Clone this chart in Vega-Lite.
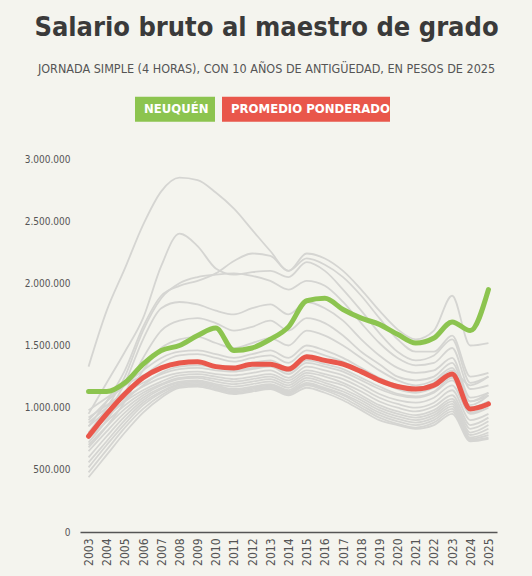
{
  "$schema": "https://vega.github.io/schema/vega-lite/v6.json",
  "width": 417,
  "height": 373,
  "autosize": {"type": "none"},
  "padding": {"left": 80, "top": 159, "right": 35, "bottom": 44},
  "background": "#f4f4ee",
  "config": {
    "view": {"stroke": null},
    "font": "DejaVu Sans Condensed, Liberation Sans Narrow, sans-serif"
  },
  "title": {
    "text": "Salario bruto al maestro de grado",
    "subtitle": "JORNADA SIMPLE (4 HORAS), CON 10 AÑOS DE ANTIGÜEDAD, EN PESOS DE 2025",
    "anchor": "middle",
    "frame": "group",
    "dx": -22,
    "offset": 25,
    "font": "DejaVu Sans Condensed, Liberation Sans Narrow, sans-serif",
    "fontSize": 27,
    "fontWeight": "bold",
    "color": "#3a3a3a",
    "subtitleFont": "DejaVu Sans Condensed, Liberation Sans Narrow, sans-serif",
    "subtitleFontSize": 12.5,
    "subtitleColor": "#555555",
    "subtitlePadding": 21
  },
  "datasets": {
    "provincias": [
      {"s":"P01","a":2003,"v":1330000},{"s":"P01","a":2004,"v":1780000},{"s":"P01","a":2005,"v":2120000},{"s":"P01","a":2006,"v":2470000},{"s":"P01","a":2007,"v":2740000},{"s":"P01","a":2008,"v":2850000},{"s":"P01","a":2009,"v":2830000},{"s":"P01","a":2010,"v":2730000},{"s":"P01","a":2011,"v":2600000},{"s":"P01","a":2012,"v":2430000},{"s":"P01","a":2013,"v":2260000},{"s":"P01","a":2014,"v":2100000},{"s":"P01","a":2015,"v":2240000},{"s":"P01","a":2016,"v":2200000},{"s":"P01","a":2017,"v":2100000},{"s":"P01","a":2018,"v":1950000},{"s":"P01","a":2019,"v":1780000},{"s":"P01","a":2020,"v":1630000},{"s":"P01","a":2021,"v":1550000},{"s":"P01","a":2022,"v":1620000},{"s":"P01","a":2023,"v":1900000},{"s":"P01","a":2024,"v":1500000},{"s":"P01","a":2025,"v":1520000},
      {"s":"P02","a":2003,"v":950000},{"s":"P02","a":2004,"v":1200000},{"s":"P02","a":2005,"v":1450000},{"s":"P02","a":2006,"v":1720000},{"s":"P02","a":2007,"v":2140000},{"s":"P02","a":2008,"v":2400000},{"s":"P02","a":2009,"v":2300000},{"s":"P02","a":2010,"v":2120000},{"s":"P02","a":2011,"v":2070000},{"s":"P02","a":2012,"v":2090000},{"s":"P02","a":2013,"v":2100000},{"s":"P02","a":2014,"v":2050000},{"s":"P02","a":2015,"v":2170000},{"s":"P02","a":2016,"v":2100000},{"s":"P02","a":2017,"v":1950000},{"s":"P02","a":2018,"v":1780000},{"s":"P02","a":2019,"v":1600000},{"s":"P02","a":2020,"v":1450000},{"s":"P02","a":2021,"v":1380000},{"s":"P02","a":2022,"v":1420000},{"s":"P02","a":2023,"v":1550000},{"s":"P02","a":2024,"v":1200000},{"s":"P02","a":2025,"v":1250000},
      {"s":"P03","a":2003,"v":850000},{"s":"P03","a":2004,"v":1050000},{"s":"P03","a":2005,"v":1300000},{"s":"P03","a":2006,"v":1650000},{"s":"P03","a":2007,"v":1900000},{"s":"P03","a":2008,"v":1980000},{"s":"P03","a":2009,"v":2020000},{"s":"P03","a":2010,"v":2080000},{"s":"P03","a":2011,"v":2180000},{"s":"P03","a":2012,"v":2240000},{"s":"P03","a":2013,"v":2220000},{"s":"P03","a":2014,"v":2100000},{"s":"P03","a":2015,"v":2200000},{"s":"P03","a":2016,"v":2150000},{"s":"P03","a":2017,"v":2050000},{"s":"P03","a":2018,"v":1900000},{"s":"P03","a":2019,"v":1720000},{"s":"P03","a":2020,"v":1550000},{"s":"P03","a":2021,"v":1450000},{"s":"P03","a":2022,"v":1450000},{"s":"P03","a":2023,"v":1580000},{"s":"P03","a":2024,"v":1250000},{"s":"P03","a":2025,"v":1280000},
      {"s":"P04","a":2003,"v":800000},{"s":"P04","a":2004,"v":1000000},{"s":"P04","a":2005,"v":1250000},{"s":"P04","a":2006,"v":1620000},{"s":"P04","a":2007,"v":1880000},{"s":"P04","a":2008,"v":2000000},{"s":"P04","a":2009,"v":2050000},{"s":"P04","a":2010,"v":2070000},{"s":"P04","a":2011,"v":2080000},{"s":"P04","a":2012,"v":2060000},{"s":"P04","a":2013,"v":2020000},{"s":"P04","a":2014,"v":1950000},{"s":"P04","a":2015,"v":2020000},{"s":"P04","a":2016,"v":1980000},{"s":"P04","a":2017,"v":1850000},{"s":"P04","a":2018,"v":1680000},{"s":"P04","a":2019,"v":1520000},{"s":"P04","a":2020,"v":1400000},{"s":"P04","a":2021,"v":1340000},{"s":"P04","a":2022,"v":1360000},{"s":"P04","a":2023,"v":1480000},{"s":"P04","a":2024,"v":1150000},{"s":"P04","a":2025,"v":1180000},
      {"s":"P05","a":2003,"v":750000},{"s":"P05","a":2004,"v":950000},{"s":"P05","a":2005,"v":1200000},{"s":"P05","a":2006,"v":1550000},{"s":"P05","a":2007,"v":1800000},{"s":"P05","a":2008,"v":1850000},{"s":"P05","a":2009,"v":1830000},{"s":"P05","a":2010,"v":1780000},{"s":"P05","a":2011,"v":1750000},{"s":"P05","a":2012,"v":1800000},{"s":"P05","a":2013,"v":1830000},{"s":"P05","a":2014,"v":1750000},{"s":"P05","a":2015,"v":1850000},{"s":"P05","a":2016,"v":1800000},{"s":"P05","a":2017,"v":1700000},{"s":"P05","a":2018,"v":1550000},{"s":"P05","a":2019,"v":1420000},{"s":"P05","a":2020,"v":1320000},{"s":"P05","a":2021,"v":1280000},{"s":"P05","a":2022,"v":1300000},{"s":"P05","a":2023,"v":1400000},{"s":"P05","a":2024,"v":1080000},{"s":"P05","a":2025,"v":1120000},
      {"s":"P06","a":2003,"v":720000},{"s":"P06","a":2004,"v":900000},{"s":"P06","a":2005,"v":1120000},{"s":"P06","a":2006,"v":1400000},{"s":"P06","a":2007,"v":1620000},{"s":"P06","a":2008,"v":1700000},{"s":"P06","a":2009,"v":1720000},{"s":"P06","a":2010,"v":1680000},{"s":"P06","a":2011,"v":1620000},{"s":"P06","a":2012,"v":1650000},{"s":"P06","a":2013,"v":1700000},{"s":"P06","a":2014,"v":1620000},{"s":"P06","a":2015,"v":1720000},{"s":"P06","a":2016,"v":1680000},{"s":"P06","a":2017,"v":1580000},{"s":"P06","a":2018,"v":1450000},{"s":"P06","a":2019,"v":1350000},{"s":"P06","a":2020,"v":1250000},{"s":"P06","a":2021,"v":1220000},{"s":"P06","a":2022,"v":1250000},{"s":"P06","a":2023,"v":1360000},{"s":"P06","a":2024,"v":1050000},{"s":"P06","a":2025,"v":1100000},
      {"s":"P07","a":2003,"v":680000},{"s":"P07","a":2004,"v":850000},{"s":"P07","a":2005,"v":1050000},{"s":"P07","a":2006,"v":1300000},{"s":"P07","a":2007,"v":1480000},{"s":"P07","a":2008,"v":1550000},{"s":"P07","a":2009,"v":1570000},{"s":"P07","a":2010,"v":1520000},{"s":"P07","a":2011,"v":1480000},{"s":"P07","a":2012,"v":1520000},{"s":"P07","a":2013,"v":1560000},{"s":"P07","a":2014,"v":1500000},{"s":"P07","a":2015,"v":1620000},{"s":"P07","a":2016,"v":1580000},{"s":"P07","a":2017,"v":1500000},{"s":"P07","a":2018,"v":1400000},{"s":"P07","a":2019,"v":1300000},{"s":"P07","a":2020,"v":1220000},{"s":"P07","a":2021,"v":1180000},{"s":"P07","a":2022,"v":1220000},{"s":"P07","a":2023,"v":1320000},{"s":"P07","a":2024,"v":1000000},{"s":"P07","a":2025,"v":1050000},
      {"s":"P08","a":2003,"v":900000},{"s":"P08","a":2004,"v":1050000},{"s":"P08","a":2005,"v":1180000},{"s":"P08","a":2006,"v":1300000},{"s":"P08","a":2007,"v":1400000},{"s":"P08","a":2008,"v":1450000},{"s":"P08","a":2009,"v":1460000},{"s":"P08","a":2010,"v":1430000},{"s":"P08","a":2011,"v":1400000},{"s":"P08","a":2012,"v":1430000},{"s":"P08","a":2013,"v":1460000},{"s":"P08","a":2014,"v":1400000},{"s":"P08","a":2015,"v":1500000},{"s":"P08","a":2016,"v":1460000},{"s":"P08","a":2017,"v":1400000},{"s":"P08","a":2018,"v":1320000},{"s":"P08","a":2019,"v":1240000},{"s":"P08","a":2020,"v":1180000},{"s":"P08","a":2021,"v":1140000},{"s":"P08","a":2022,"v":1180000},{"s":"P08","a":2023,"v":1260000},{"s":"P08","a":2024,"v":1000000},{"s":"P08","a":2025,"v":1050000},
      {"s":"P09","a":2003,"v":980000},{"s":"P09","a":2004,"v":1080000},{"s":"P09","a":2005,"v":1180000},{"s":"P09","a":2006,"v":1260000},{"s":"P09","a":2007,"v":1320000},{"s":"P09","a":2008,"v":1350000},{"s":"P09","a":2009,"v":1360000},{"s":"P09","a":2010,"v":1340000},{"s":"P09","a":2011,"v":1330000},{"s":"P09","a":2012,"v":1360000},{"s":"P09","a":2013,"v":1380000},{"s":"P09","a":2014,"v":1320000},{"s":"P09","a":2015,"v":1420000},{"s":"P09","a":2016,"v":1380000},{"s":"P09","a":2017,"v":1340000},{"s":"P09","a":2018,"v":1280000},{"s":"P09","a":2019,"v":1220000},{"s":"P09","a":2020,"v":1180000},{"s":"P09","a":2021,"v":1160000},{"s":"P09","a":2022,"v":1200000},{"s":"P09","a":2023,"v":1300000},{"s":"P09","a":2024,"v":1180000},{"s":"P09","a":2025,"v":1250000},
      {"s":"P10","a":2003,"v":920000},{"s":"P10","a":2004,"v":1020000},{"s":"P10","a":2005,"v":1120000},{"s":"P10","a":2006,"v":1200000},{"s":"P10","a":2007,"v":1270000},{"s":"P10","a":2008,"v":1310000},{"s":"P10","a":2009,"v":1320000},{"s":"P10","a":2010,"v":1300000},{"s":"P10","a":2011,"v":1290000},{"s":"P10","a":2012,"v":1310000},{"s":"P10","a":2013,"v":1330000},{"s":"P10","a":2014,"v":1270000},{"s":"P10","a":2015,"v":1360000},{"s":"P10","a":2016,"v":1330000},{"s":"P10","a":2017,"v":1290000},{"s":"P10","a":2018,"v":1220000},{"s":"P10","a":2019,"v":1150000},{"s":"P10","a":2020,"v":1100000},{"s":"P10","a":2021,"v":1080000},{"s":"P10","a":2022,"v":1120000},{"s":"P10","a":2023,"v":1220000},{"s":"P10","a":2024,"v":1020000},{"s":"P10","a":2025,"v":1100000},
      {"s":"P11","a":2003,"v":850000},{"s":"P11","a":2004,"v":970000},{"s":"P11","a":2005,"v":1080000},{"s":"P11","a":2006,"v":1170000},{"s":"P11","a":2007,"v":1240000},{"s":"P11","a":2008,"v":1280000},{"s":"P11","a":2009,"v":1290000},{"s":"P11","a":2010,"v":1270000},{"s":"P11","a":2011,"v":1260000},{"s":"P11","a":2012,"v":1280000},{"s":"P11","a":2013,"v":1300000},{"s":"P11","a":2014,"v":1240000},{"s":"P11","a":2015,"v":1330000},{"s":"P11","a":2016,"v":1300000},{"s":"P11","a":2017,"v":1260000},{"s":"P11","a":2018,"v":1190000},{"s":"P11","a":2019,"v":1110000},{"s":"P11","a":2020,"v":1060000},{"s":"P11","a":2021,"v":1040000},{"s":"P11","a":2022,"v":1080000},{"s":"P11","a":2023,"v":1180000},{"s":"P11","a":2024,"v":950000},{"s":"P11","a":2025,"v":1000000},
      {"s":"P12","a":2003,"v":800000},{"s":"P12","a":2004,"v":930000},{"s":"P12","a":2005,"v":1050000},{"s":"P12","a":2006,"v":1140000},{"s":"P12","a":2007,"v":1210000},{"s":"P12","a":2008,"v":1260000},{"s":"P12","a":2009,"v":1270000},{"s":"P12","a":2010,"v":1250000},{"s":"P12","a":2011,"v":1230000},{"s":"P12","a":2012,"v":1250000},{"s":"P12","a":2013,"v":1270000},{"s":"P12","a":2014,"v":1220000},{"s":"P12","a":2015,"v":1300000},{"s":"P12","a":2016,"v":1270000},{"s":"P12","a":2017,"v":1230000},{"s":"P12","a":2018,"v":1160000},{"s":"P12","a":2019,"v":1080000},{"s":"P12","a":2020,"v":1030000},{"s":"P12","a":2021,"v":1000000},{"s":"P12","a":2022,"v":1040000},{"s":"P12","a":2023,"v":1140000},{"s":"P12","a":2024,"v":900000},{"s":"P12","a":2025,"v":950000},
      {"s":"P13","a":2003,"v":750000},{"s":"P13","a":2004,"v":890000},{"s":"P13","a":2005,"v":1020000},{"s":"P13","a":2006,"v":1120000},{"s":"P13","a":2007,"v":1190000},{"s":"P13","a":2008,"v":1240000},{"s":"P13","a":2009,"v":1250000},{"s":"P13","a":2010,"v":1230000},{"s":"P13","a":2011,"v":1210000},{"s":"P13","a":2012,"v":1230000},{"s":"P13","a":2013,"v":1250000},{"s":"P13","a":2014,"v":1200000},{"s":"P13","a":2015,"v":1280000},{"s":"P13","a":2016,"v":1250000},{"s":"P13","a":2017,"v":1200000},{"s":"P13","a":2018,"v":1130000},{"s":"P13","a":2019,"v":1050000},{"s":"P13","a":2020,"v":1000000},{"s":"P13","a":2021,"v":970000},{"s":"P13","a":2022,"v":1010000},{"s":"P13","a":2023,"v":1100000},{"s":"P13","a":2024,"v":860000},{"s":"P13","a":2025,"v":920000},
      {"s":"P14","a":2003,"v":700000},{"s":"P14","a":2004,"v":850000},{"s":"P14","a":2005,"v":990000},{"s":"P14","a":2006,"v":1100000},{"s":"P14","a":2007,"v":1180000},{"s":"P14","a":2008,"v":1230000},{"s":"P14","a":2009,"v":1240000},{"s":"P14","a":2010,"v":1210000},{"s":"P14","a":2011,"v":1190000},{"s":"P14","a":2012,"v":1210000},{"s":"P14","a":2013,"v":1230000},{"s":"P14","a":2014,"v":1180000},{"s":"P14","a":2015,"v":1260000},{"s":"P14","a":2016,"v":1220000},{"s":"P14","a":2017,"v":1180000},{"s":"P14","a":2018,"v":1100000},{"s":"P14","a":2019,"v":1020000},{"s":"P14","a":2020,"v":970000},{"s":"P14","a":2021,"v":940000},{"s":"P14","a":2022,"v":980000},{"s":"P14","a":2023,"v":1070000},{"s":"P14","a":2024,"v":830000},{"s":"P14","a":2025,"v":890000},
      {"s":"P15","a":2003,"v":650000},{"s":"P15","a":2004,"v":810000},{"s":"P15","a":2005,"v":960000},{"s":"P15","a":2006,"v":1080000},{"s":"P15","a":2007,"v":1160000},{"s":"P15","a":2008,"v":1210000},{"s":"P15","a":2009,"v":1220000},{"s":"P15","a":2010,"v":1190000},{"s":"P15","a":2011,"v":1170000},{"s":"P15","a":2012,"v":1190000},{"s":"P15","a":2013,"v":1210000},{"s":"P15","a":2014,"v":1160000},{"s":"P15","a":2015,"v":1240000},{"s":"P15","a":2016,"v":1200000},{"s":"P15","a":2017,"v":1150000},{"s":"P15","a":2018,"v":1080000},{"s":"P15","a":2019,"v":1000000},{"s":"P15","a":2020,"v":950000},{"s":"P15","a":2021,"v":920000},{"s":"P15","a":2022,"v":960000},{"s":"P15","a":2023,"v":1050000},{"s":"P15","a":2024,"v":800000},{"s":"P15","a":2025,"v":860000},
      {"s":"P16","a":2003,"v":600000},{"s":"P16","a":2004,"v":770000},{"s":"P16","a":2005,"v":930000},{"s":"P16","a":2006,"v":1060000},{"s":"P16","a":2007,"v":1150000},{"s":"P16","a":2008,"v":1200000},{"s":"P16","a":2009,"v":1210000},{"s":"P16","a":2010,"v":1180000},{"s":"P16","a":2011,"v":1150000},{"s":"P16","a":2012,"v":1170000},{"s":"P16","a":2013,"v":1190000},{"s":"P16","a":2014,"v":1140000},{"s":"P16","a":2015,"v":1220000},{"s":"P16","a":2016,"v":1180000},{"s":"P16","a":2017,"v":1130000},{"s":"P16","a":2018,"v":1060000},{"s":"P16","a":2019,"v":980000},{"s":"P16","a":2020,"v":930000},{"s":"P16","a":2021,"v":900000},{"s":"P16","a":2022,"v":940000},{"s":"P16","a":2023,"v":1030000},{"s":"P16","a":2024,"v":780000},{"s":"P16","a":2025,"v":830000},
      {"s":"P17","a":2003,"v":560000},{"s":"P17","a":2004,"v":730000},{"s":"P17","a":2005,"v":900000},{"s":"P17","a":2006,"v":1040000},{"s":"P17","a":2007,"v":1130000},{"s":"P17","a":2008,"v":1190000},{"s":"P17","a":2009,"v":1200000},{"s":"P17","a":2010,"v":1170000},{"s":"P17","a":2011,"v":1140000},{"s":"P17","a":2012,"v":1160000},{"s":"P17","a":2013,"v":1180000},{"s":"P17","a":2014,"v":1130000},{"s":"P17","a":2015,"v":1200000},{"s":"P17","a":2016,"v":1160000},{"s":"P17","a":2017,"v":1110000},{"s":"P17","a":2018,"v":1040000},{"s":"P17","a":2019,"v":960000},{"s":"P17","a":2020,"v":910000},{"s":"P17","a":2021,"v":880000},{"s":"P17","a":2022,"v":920000},{"s":"P17","a":2023,"v":1010000},{"s":"P17","a":2024,"v":760000},{"s":"P17","a":2025,"v":800000},
      {"s":"P18","a":2003,"v":520000},{"s":"P18","a":2004,"v":700000},{"s":"P18","a":2005,"v":870000},{"s":"P18","a":2006,"v":1020000},{"s":"P18","a":2007,"v":1120000},{"s":"P18","a":2008,"v":1180000},{"s":"P18","a":2009,"v":1190000},{"s":"P18","a":2010,"v":1160000},{"s":"P18","a":2011,"v":1130000},{"s":"P18","a":2012,"v":1150000},{"s":"P18","a":2013,"v":1170000},{"s":"P18","a":2014,"v":1120000},{"s":"P18","a":2015,"v":1190000},{"s":"P18","a":2016,"v":1150000},{"s":"P18","a":2017,"v":1100000},{"s":"P18","a":2018,"v":1020000},{"s":"P18","a":2019,"v":940000},{"s":"P18","a":2020,"v":890000},{"s":"P18","a":2021,"v":860000},{"s":"P18","a":2022,"v":900000},{"s":"P18","a":2023,"v":990000},{"s":"P18","a":2024,"v":750000},{"s":"P18","a":2025,"v":780000},
      {"s":"P19","a":2003,"v":480000},{"s":"P19","a":2004,"v":660000},{"s":"P19","a":2005,"v":840000},{"s":"P19","a":2006,"v":990000},{"s":"P19","a":2007,"v":1100000},{"s":"P19","a":2008,"v":1170000},{"s":"P19","a":2009,"v":1180000},{"s":"P19","a":2010,"v":1150000},{"s":"P19","a":2011,"v":1120000},{"s":"P19","a":2012,"v":1140000},{"s":"P19","a":2013,"v":1160000},{"s":"P19","a":2014,"v":1110000},{"s":"P19","a":2015,"v":1180000},{"s":"P19","a":2016,"v":1140000},{"s":"P19","a":2017,"v":1080000},{"s":"P19","a":2018,"v":1000000},{"s":"P19","a":2019,"v":920000},{"s":"P19","a":2020,"v":870000},{"s":"P19","a":2021,"v":840000},{"s":"P19","a":2022,"v":880000},{"s":"P19","a":2023,"v":970000},{"s":"P19","a":2024,"v":740000},{"s":"P19","a":2025,"v":760000},
      {"s":"P20","a":2003,"v":440000},{"s":"P20","a":2004,"v":620000},{"s":"P20","a":2005,"v":800000},{"s":"P20","a":2006,"v":960000},{"s":"P20","a":2007,"v":1080000},{"s":"P20","a":2008,"v":1160000},{"s":"P20","a":2009,"v":1170000},{"s":"P20","a":2010,"v":1140000},{"s":"P20","a":2011,"v":1110000},{"s":"P20","a":2012,"v":1130000},{"s":"P20","a":2013,"v":1150000},{"s":"P20","a":2014,"v":1100000},{"s":"P20","a":2015,"v":1160000},{"s":"P20","a":2016,"v":1120000},{"s":"P20","a":2017,"v":1060000},{"s":"P20","a":2018,"v":980000},{"s":"P20","a":2019,"v":900000},{"s":"P20","a":2020,"v":860000},{"s":"P20","a":2021,"v":830000},{"s":"P20","a":2022,"v":860000},{"s":"P20","a":2023,"v":950000},{"s":"P20","a":2024,"v":730000},{"s":"P20","a":2025,"v":750000},
      {"s":"P21","a":2003,"v":780000},{"s":"P21","a":2004,"v":920000},{"s":"P21","a":2005,"v":1060000},{"s":"P21","a":2006,"v":1180000},{"s":"P21","a":2007,"v":1280000},{"s":"P21","a":2008,"v":1330000},{"s":"P21","a":2009,"v":1340000},{"s":"P21","a":2010,"v":1320000},{"s":"P21","a":2011,"v":1300000},{"s":"P21","a":2012,"v":1320000},{"s":"P21","a":2013,"v":1340000},{"s":"P21","a":2014,"v":1290000},{"s":"P21","a":2015,"v":1380000},{"s":"P21","a":2016,"v":1350000},{"s":"P21","a":2017,"v":1310000},{"s":"P21","a":2018,"v":1240000},{"s":"P21","a":2019,"v":1170000},{"s":"P21","a":2020,"v":1110000},{"s":"P21","a":2021,"v":1090000},{"s":"P21","a":2022,"v":1130000},{"s":"P21","a":2023,"v":1240000},{"s":"P21","a":2024,"v":960000},{"s":"P21","a":2025,"v":1020000},
      {"s":"P22","a":2003,"v":880000},{"s":"P22","a":2004,"v":1000000},{"s":"P22","a":2005,"v":1130000},{"s":"P22","a":2006,"v":1250000},{"s":"P22","a":2007,"v":1360000},{"s":"P22","a":2008,"v":1420000},{"s":"P22","a":2009,"v":1430000},{"s":"P22","a":2010,"v":1400000},{"s":"P22","a":2011,"v":1370000},{"s":"P22","a":2012,"v":1400000},{"s":"P22","a":2013,"v":1420000},{"s":"P22","a":2014,"v":1360000},{"s":"P22","a":2015,"v":1460000},{"s":"P22","a":2016,"v":1420000},{"s":"P22","a":2017,"v":1370000},{"s":"P22","a":2018,"v":1290000},{"s":"P22","a":2019,"v":1210000},{"s":"P22","a":2020,"v":1150000},{"s":"P22","a":2021,"v":1120000},{"s":"P22","a":2022,"v":1160000},{"s":"P22","a":2023,"v":1250000},{"s":"P22","a":2024,"v":1050000},{"s":"P22","a":2025,"v":1120000}
    ],
    "destacadas": [
      {"s":"Neuquén","a":2003,"v":1130000},{"s":"Neuquén","a":2004,"v":1130000},{"s":"Neuquén","a":2005,"v":1200000},{"s":"Neuquén","a":2006,"v":1350000},{"s":"Neuquén","a":2007,"v":1460000},{"s":"Neuquén","a":2008,"v":1500000},{"s":"Neuquén","a":2009,"v":1580000},{"s":"Neuquén","a":2010,"v":1640000},{"s":"Neuquén","a":2011,"v":1460000},{"s":"Neuquén","a":2012,"v":1480000},{"s":"Neuquén","a":2013,"v":1550000},{"s":"Neuquén","a":2014,"v":1650000},{"s":"Neuquén","a":2015,"v":1860000},{"s":"Neuquén","a":2016,"v":1880000},{"s":"Neuquén","a":2017,"v":1790000},{"s":"Neuquén","a":2018,"v":1720000},{"s":"Neuquén","a":2019,"v":1670000},{"s":"Neuquén","a":2020,"v":1590000},{"s":"Neuquén","a":2021,"v":1520000},{"s":"Neuquén","a":2022,"v":1560000},{"s":"Neuquén","a":2023,"v":1690000},{"s":"Neuquén","a":2024,"v":1620000},{"s":"Neuquén","a":2025,"v":1950000},
      {"s":"Promedio ponderado","a":2003,"v":770000},{"s":"Promedio ponderado","a":2004,"v":950000},{"s":"Promedio ponderado","a":2005,"v":1110000},{"s":"Promedio ponderado","a":2006,"v":1240000},{"s":"Promedio ponderado","a":2007,"v":1320000},{"s":"Promedio ponderado","a":2008,"v":1360000},{"s":"Promedio ponderado","a":2009,"v":1370000},{"s":"Promedio ponderado","a":2010,"v":1330000},{"s":"Promedio ponderado","a":2011,"v":1320000},{"s":"Promedio ponderado","a":2012,"v":1350000},{"s":"Promedio ponderado","a":2013,"v":1350000},{"s":"Promedio ponderado","a":2014,"v":1310000},{"s":"Promedio ponderado","a":2015,"v":1410000},{"s":"Promedio ponderado","a":2016,"v":1380000},{"s":"Promedio ponderado","a":2017,"v":1350000},{"s":"Promedio ponderado","a":2018,"v":1290000},{"s":"Promedio ponderado","a":2019,"v":1220000},{"s":"Promedio ponderado","a":2020,"v":1170000},{"s":"Promedio ponderado","a":2021,"v":1150000},{"s":"Promedio ponderado","a":2022,"v":1180000},{"s":"Promedio ponderado","a":2023,"v":1270000},{"s":"Promedio ponderado","a":2024,"v":990000},{"s":"Promedio ponderado","a":2025,"v":1030000}
    ]
  },
  "encoding": {
    "x": {
      "field": "a",
      "type": "ordinal",
      "scale": {"type": "point", "padding": 0.47},
      "axis": {
        "title": null,
        "labelAngle": -90,
        "labelFontSize": 12,
        "labelColor": "#555555",
        "labelPadding": 6,
        "ticks": false,
        "grid": false,
        "domainColor": "#555555",
        "domainWidth": 1.5
      }
    },
    "y": {
      "field": "v",
      "type": "quantitative",
      "scale": {"domain": [0, 3000000], "nice": false},
      "axis": {
        "title": null,
        "values": [0, 500000, 1000000, 1500000, 2000000, 2500000, 3000000],
        "labelExpr": "replace(replace(format(datum.value, ','), ',', '.'), ',', '.')",
        "labelFontSize": 10,
        "labelColor": "#555555",
        "labelPadding": 10,
        "labelFlush": false,
        "domain": false,
        "ticks": false,
        "grid": false
      }
    }
  },
  "layer": [
    {
      "data": {"name": "provincias"},
      "mark": {"type": "line", "interpolate": "monotone", "color": "#d5d5d2", "strokeWidth": 1.8},
      "encoding": {"detail": {"field": "s"}}
    },
    {
      "data": {"name": "destacadas"},
      "mark": {"type": "line", "interpolate": "monotone", "strokeCap": "round"},
      "encoding": {
        "strokeWidth": {"value": 5},
        "color": {
          "field": "s",
          "type": "nominal",
          "scale": {"domain": ["Neuquén", "Promedio ponderado"], "range": ["#8cc44f", "#e9574b"]},
          "legend": {
            "title": null,
            "orient": "none",
            "legendX": 55,
            "legendY": -58,
            "direction": "horizontal",
            "gridAlign": "each",
            "symbolType": {"expr": "datum.value == 'Neuquén' ? 'M-1,-1.5625H9V1.5625H-1Z' : 'M-1,-1.5625H20V1.5625H-1Z'"},
            "symbolFillColor": {"expr": "datum.value == 'Neuquén' ? '#8cc44f' : '#e9574b'"},
            "symbolSize": 256,
            "symbolStrokeWidth": 0,
            "symbolOpacity": 1,
            "labelExpr": "upper(datum.label)",
            "labelColor": "#ffffff",
            "labelFont": "DejaVu Sans Condensed, Liberation Sans Narrow, sans-serif",
            "labelFontSize": 13,
            "labelFontWeight": "bold",
            "labelOffset": -7,
            "labelLimit": 300,
            "columnPadding": 7
          }
        }
      }
    }
  ]
}
